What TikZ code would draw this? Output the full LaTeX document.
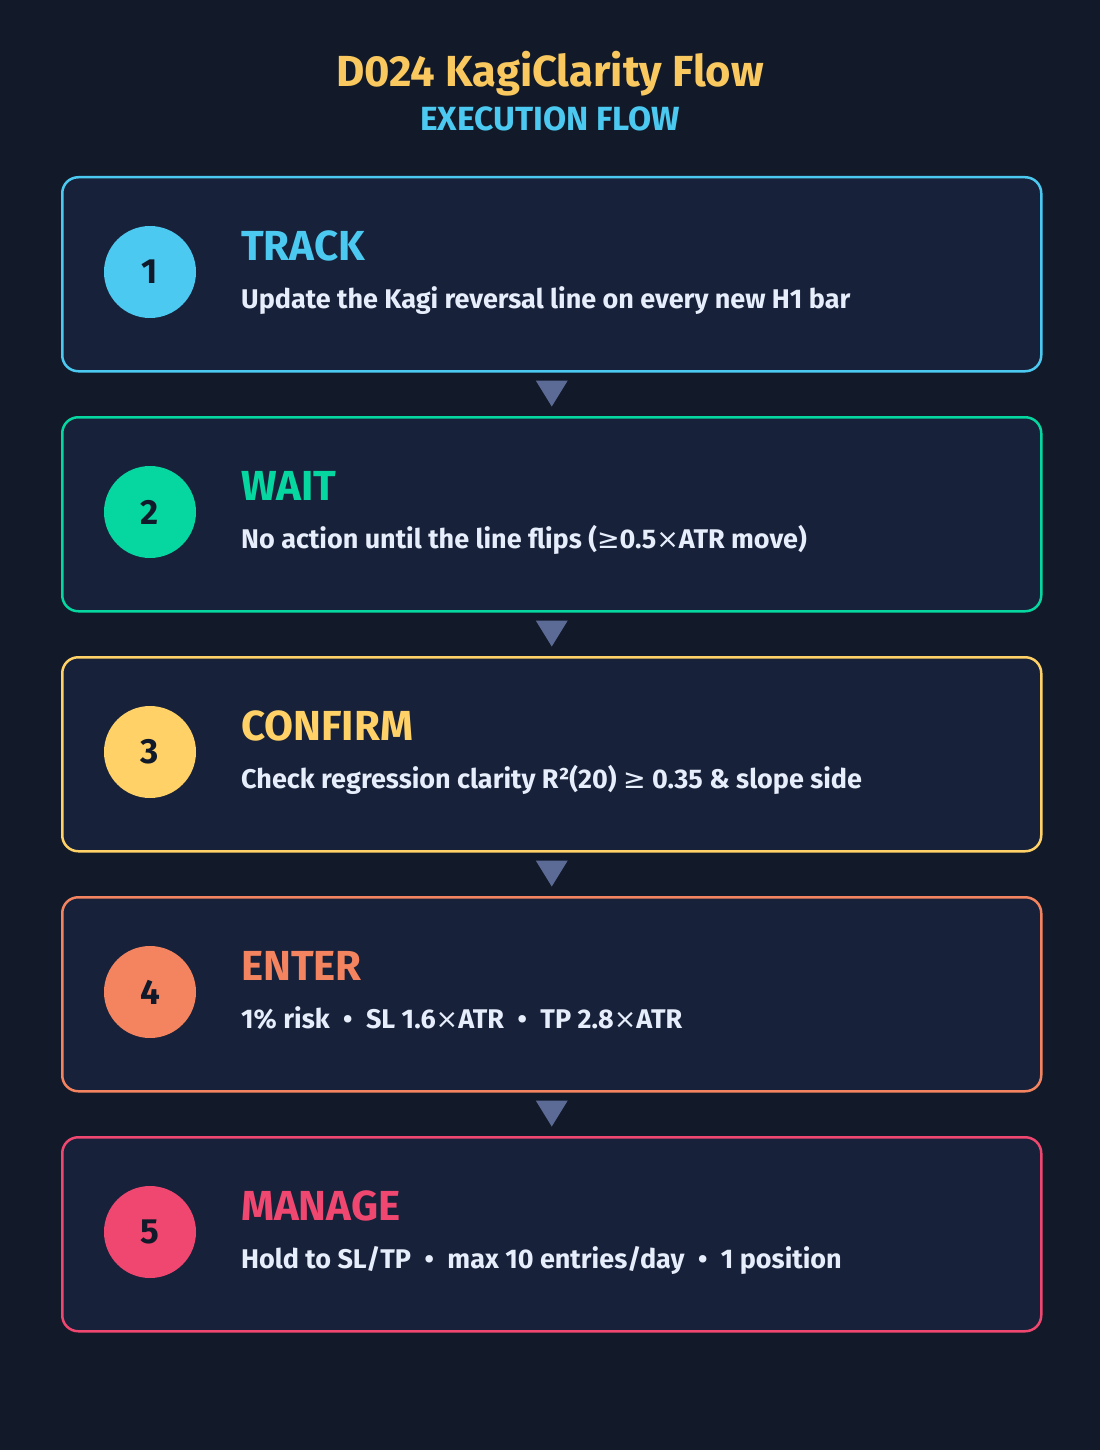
\documentclass[tikz,border=0pt]{standalone}
\usepackage{fontspec}
\setmainfont{Fira Sans}
\newfontfamily\symfont{DejaVu Sans}
\usetikzlibrary{calc}
\definecolor{bgc}{HTML}{121A2A}
\definecolor{cardbg}{HTML}{172139}
\definecolor{cA}{HTML}{4CC9F0}
\definecolor{cB}{HTML}{06D6A0}
\definecolor{cC}{HTML}{FFD166}
\definecolor{cD}{HTML}{F4845F}
\definecolor{cE}{HTML}{EF476F}
\definecolor{ttlc}{HTML}{F9C95F}
\definecolor{descc}{HTML}{E6EDFB}
\definecolor{numc}{HTML}{111A2A}
\definecolor{tric}{HTML}{5C6B96}
\newcommand{\sep}{\hspace{0.5em}•\hspace{0.5em}}
\newcommand{\tms}{{\symfont\mdseries ×}}
\newcommand{\gtr}{{\symfont\mdseries ≥}}
\tikzset{
  card/.style={draw=#1, line width=2.5pt, fill=cardbg, rounded corners=16pt,
    minimum width=979pt, minimum height=194pt, inner sep=0pt, anchor=north west},
  numdot/.style={circle, fill=#1, minimum size=92pt, inner sep=0pt, text=numc,
    font=\bfseries\fontsize{35}{35}\selectfont},
  steptitle/.style={anchor=base west, text=#1, inner sep=0pt,
    font=\bfseries\fontsize{42}{42}\selectfont},
  stepdesc/.style={anchor=base west, text=descc, inner sep=0pt,
    font=\bfseries\fontsize{27}{27}\selectfont},
  tri/.style={fill=tric, draw=none}
}
\begin{document}
\begin{tikzpicture}[x=1pt,y=-1pt]
\fill[bgc] (0,0) rectangle (1100,1450);
\useasboundingbox (0,0) rectangle (1100,1450);
\node[anchor=base, text=ttlc, inner sep=0pt, font=\bfseries\fontsize{43.5}{43.5}\selectfont] (title) at (550,87) {D024 KagiClarity Flow};
\node[anchor=base, text=cA, inner sep=0pt, font=\bfseries\fontsize{33.5}{33.5}\selectfont] (subtitle) at (550,131) {EXECUTION FLOW};

\foreach \i/\c/\t/\d in {
  1/cA/TRACK/{Update the Kagi reversal line on every new H1 bar},
  2/cB/WAIT/{No action until the line flips (\gtr0.5\tms ATR move)},
  3/cC/CONFIRM/{Check regression clarity R²(20) \gtr\ 0.35 \& slope side},
  4/cD/ENTER/{1\% risk\sep SL 1.6\tms ATR\sep TP 2.8\tms ATR},
  5/cE/MANAGE/{Hold to SL/TP\sep max 10 entries/day\sep 1 position}}{
  \pgfmathsetmacro{\top}{176+240*(\i-1)}
  \node[card=\c] (card\i) at (61,\top) {};
  \node[numdot=\c] (num\i) at (150,\top+96) {\i};
  \node[steptitle=\c] (ttl\i) at (241,\top+84) {\t};
  \node[stepdesc] (desc\i) at (241,\top+132) {\d};
}
\foreach \i in {1,2,3,4}{
  \fill[tri] ($(card\i.south)+(-16,8)$) -- ($(card\i.south)+(16,8)$) -- ($(card\i.south)+(0,34)$) -- cycle;
}
\end{tikzpicture}
\end{document}
